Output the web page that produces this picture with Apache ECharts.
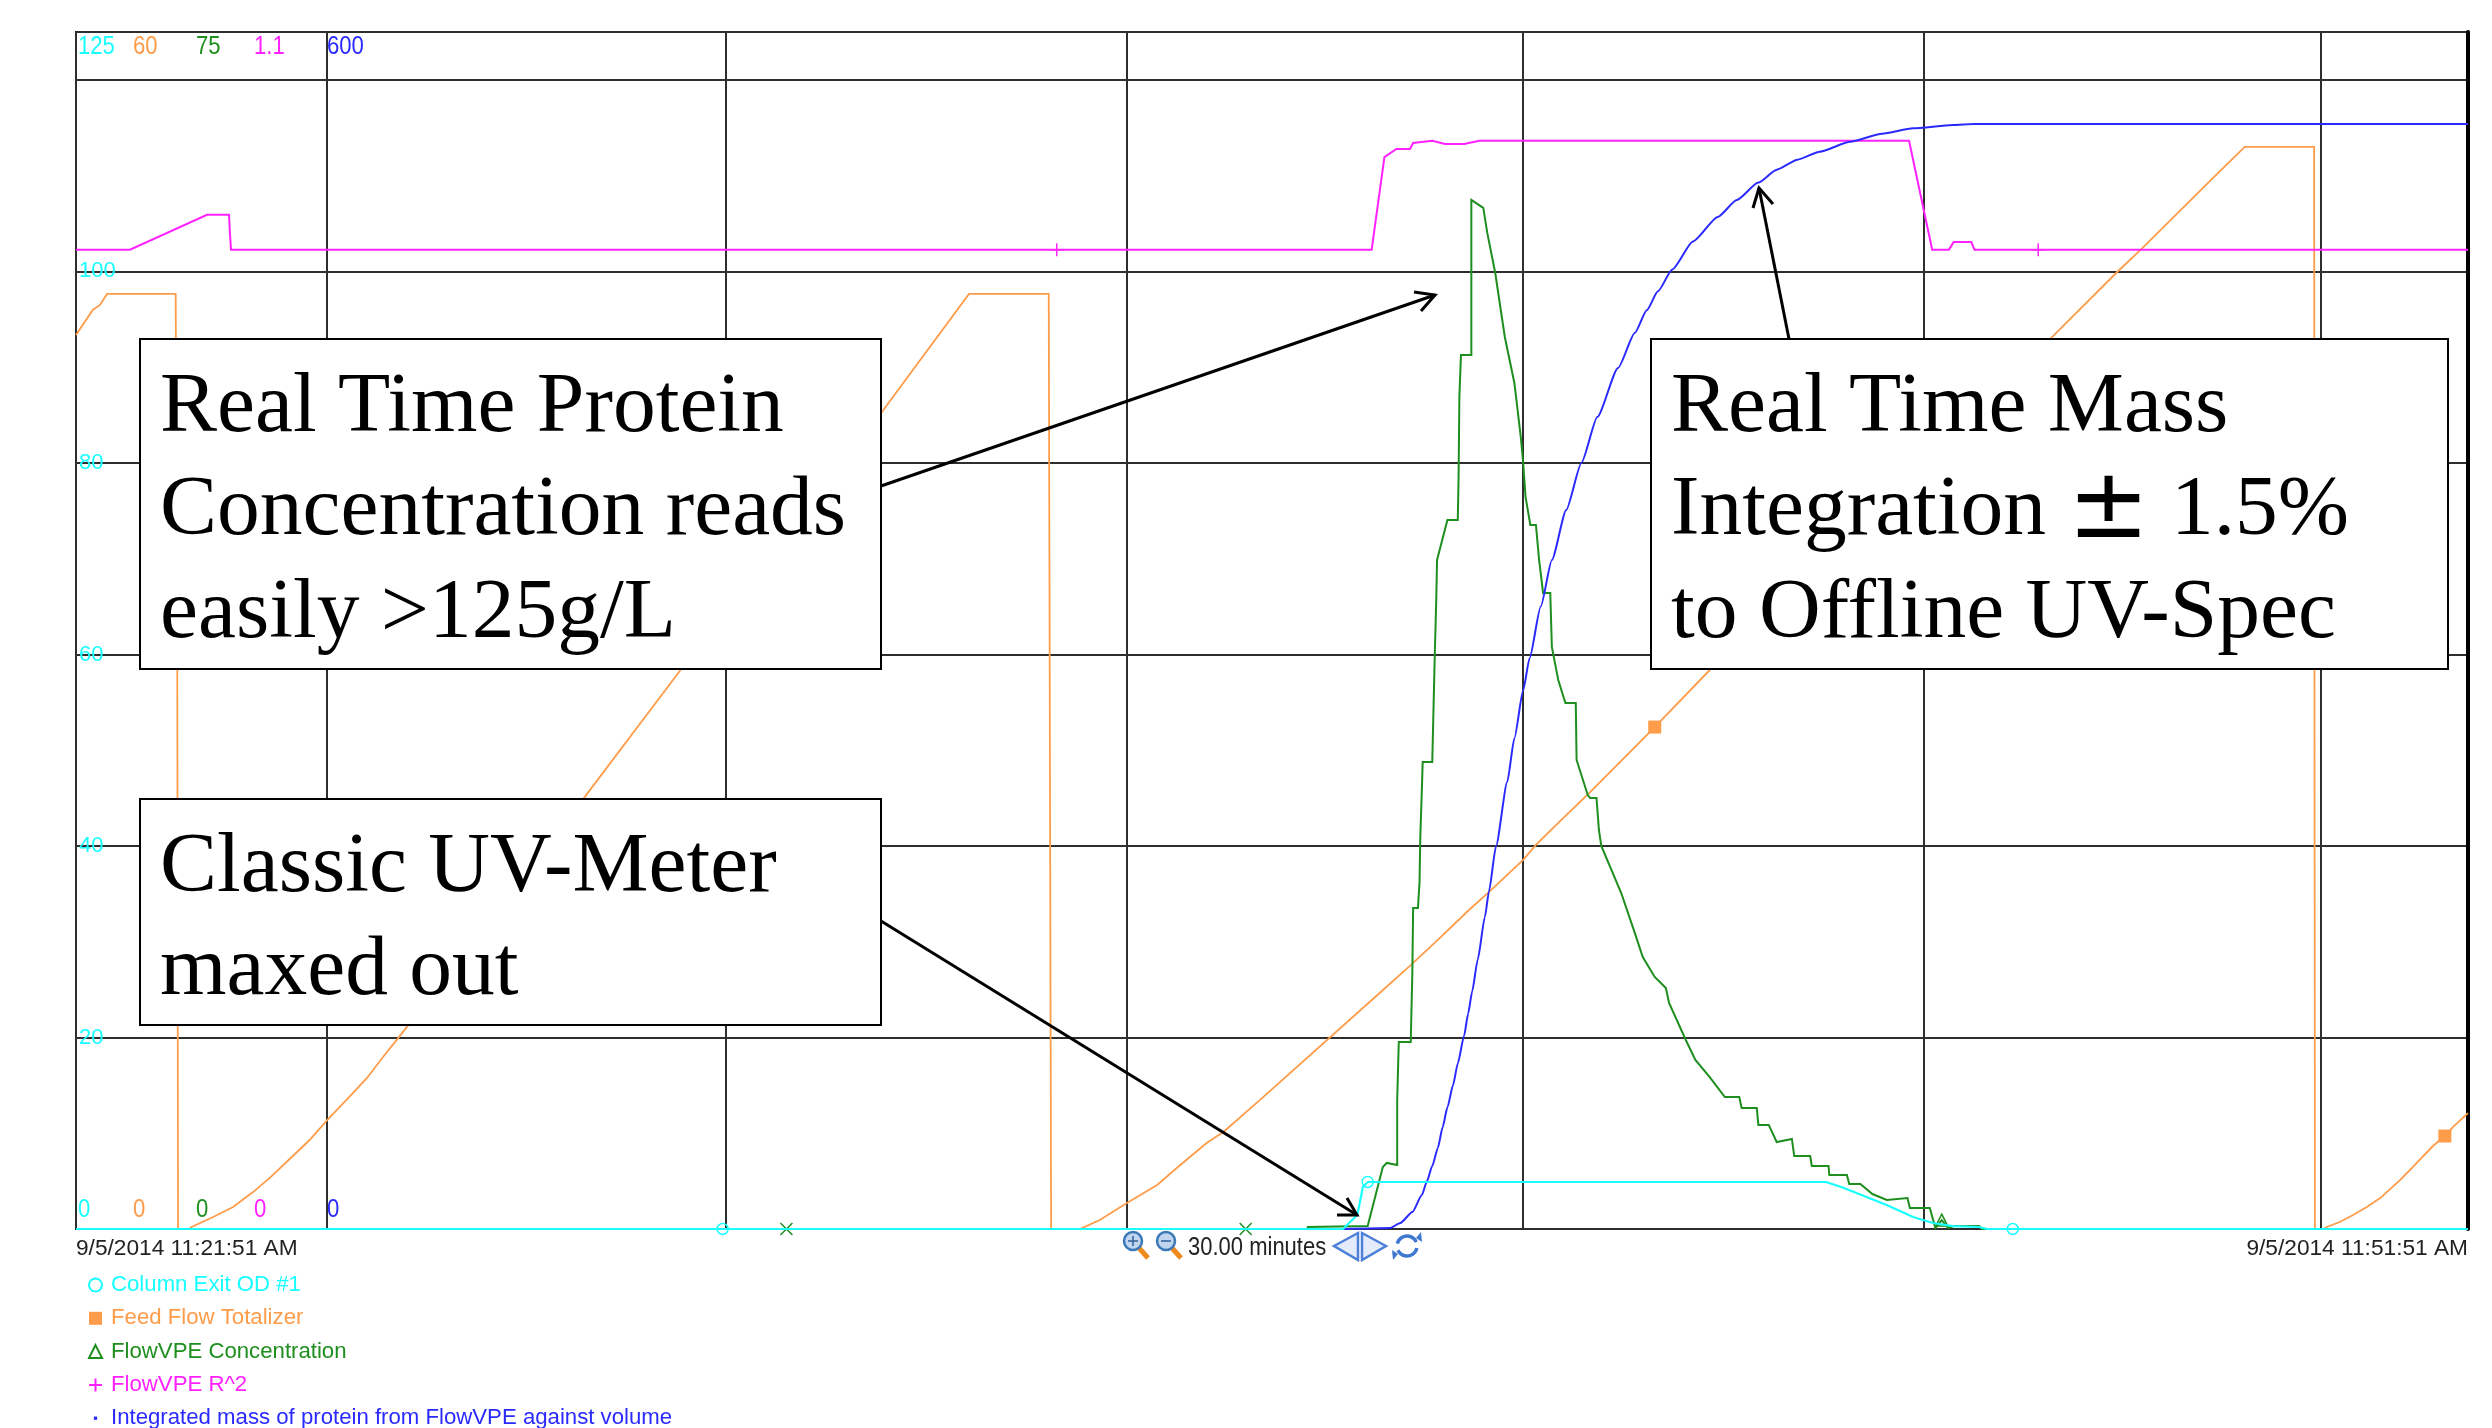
<!DOCTYPE html>
<html><head><meta charset="utf-8">
<style>html,body{margin:0;padding:0;background:#fff}#c{width:2492px;height:1428px}</style>
<script src="https://cdn.jsdelivr.net/npm/echarts@6/dist/echarts.min.js"></script>
</head><body><div id="c"></div>
<script>
// x values: minutes since 9/5/2014 11:21:51 AM
const windowMinutes = 30;
const gridMinutes = [0, 3.15, 8.15, 13.18, 18.15, 23.17, 28.15, 30];
const timeLabels = ['9/5/2014 11:21:51 AM', '9/5/2014 11:51:51 AM'];
const seriesNames = ['Column Exit OD #1', 'Feed Flow Totalizer', 'FlowVPE Concentration', 'FlowVPE R^2', 'Integrated mass of protein from FlowVPE against volume'];
const scaleMax = [125, 60, 75, 1.1, 600];
const scaleMaxLabels = ['125', '60', '75', '1.1', '600'];
const scaleMinLabels = ['0', '0', '0', '0', '0'];
const odTicks = [20, 40, 60, 80, 100];

const odPoints = [[0,0],[15.89,0],[15.98,.73],[16.07,1.46],[16.14,4.39],[16.20,4.91],[21.95,4.91],[22.14,4.39],[22.71,2.5],[23.04,1.25],[23.29,.63],[23.54,.31],[23.87,.21],[23.97,0],[30,0]];
const feedPoints = [[0,44.81],[.21,46.07],[.30,46.32],[.39,46.87],[1.25,46.87],[1.27,29.02],[1.28,0],[1.42,0],[1.45,.10],[1.72,.60],[1.97,1.10],[2.22,1.85],[2.43,2.56],[2.68,3.51],[2.93,4.46],[3.15,5.46],[3.44,6.67],[3.65,7.57],[3.85,8.62],[4.04,9.57],[4.16,10.18],[6.36,21.55],[7.61,28.17],[10.07,40.75],[11.20,46.87],[12.20,46.87],[12.23,0],[12.59,0],[12.84,.45],[13.18,1.30],[13.56,2.21],[13.82,3.11],[14.18,4.31],[14.39,4.86],[14.85,6.47],[16.35,11.83],[16.74,13.23],[17.08,14.49],[17.47,15.99],[17.72,16.89],[18.15,18.50],[18.31,19.25],[18.60,20.40],[18.99,21.90],[19.80,25.16],[20.49,28.02],[24.77,44.66],[25.60,47.97],[25.89,49.07],[26.80,52.68],[27.20,54.24],[28.07,54.24],[28.08,0],[28.19,0],[28.23,.10],[28.39,.35],[28.56,.70],[28.73,1.10],[28.90,1.55],[29.15,2.46],[29.31,3.11],[29.56,4.16],[29.71,4.66],[29.81,5.11],[30,5.81]];
const concPoints = [[0,0],[15.44,0],[15.45,.13],[16.20,.19],[16.39,3.88],[16.44,4.14],[16.57,4.01],[16.57,8.08],[16.59,11.72],[16.74,11.72],[16.76,16.04],[16.77,20.11],[16.83,20.11],[16.85,21.68],[16.86,24.56],[16.88,27.63],[16.89,29.26],[17.01,29.26],[17.02,31.39],[17.04,35.65],[17.06,39.41],[17.07,41.92],[17.20,44.43],[17.33,44.43],[17.34,47.06],[17.35,52.13],[17.37,54.76],[17.50,54.76],[17.50,64.48],[17.65,63.98],[17.70,62.41],[17.80,59.90],[17.92,55.89],[18.04,53.01],[18.12,49.63],[18.15,48.00],[18.18,45.87],[18.24,44.11],[18.31,44.11],[18.35,41.92],[18.40,39.85],[18.49,39.85],[18.51,36.47],[18.59,34.40],[18.68,32.96],[18.81,32.96],[18.82,29.39],[18.96,27.19],[18.99,27.01],[19.07,27.01],[19.10,25.00],[19.13,24.00],[19.38,21.05],[19.55,18.55],[19.65,17.04],[19.80,15.79],[19.94,15.10],[19.98,14.16],[20.19,11.84],[20.31,10.59],[20.49,9.52],[20.68,8.27],[20.86,8.27],[20.89,7.58],[21.08,7.58],[21.10,6.52],[21.23,6.52],[21.33,5.45],[21.52,5.64],[21.55,4.57],[21.75,4.57],[21.77,3.95],[21.98,3.95],[21.99,3.38],[22.21,3.38],[22.24,2.82],[22.38,2.82],[22.53,2.19],[22.71,1.82],[22.97,1.94],[23.00,1.32],[23.25,1.32],[23.32,.06],[23.40,.56],[23.48,.06],[23.55,.19],[23.87,.19],[23.90,0],[30,0]];
const r2Points = [[0,.9],[.677,.9],[1.643,.932],[1.919,.932],[1.93,.916],[1.944,.9],[16.25,.9],[16.41,.985],[16.56,.9925],[16.73,.9925],[16.77,.998],[17.01,1],[17.17,.997],[17.41,.997],[17.60,1],[22.99,1],[23.28,.9],[23.49,.9],[23.55,.907],[23.77,.907],[23.81,.9],[30,.9]];
const massPoints = [[15.89,0],[16.48,.5],[16.61,3],[16.76,8.5],[16.88,17],[16.94,23.6],[17.01,31.6],[17.08,40.6],[17.14,51],[17.20,61],[17.27,72],[17.33,83],[17.41,97],[17.46,108],[17.51,119],[17.58,135],[17.67,156.4],[17.72,169],[17.81,192],[17.95,224],[18.04,246],[18.15,270],[18.23,286],[18.37,312],[18.51,335.3],[18.69,360.4],[18.88,384],[19.08,407],[19.34,431.6],[19.55,449.1],[19.70,460.5],[19.84,470],[20.02,481],[20.28,495],[20.59,507.3],[20.83,515.8],[21.10,524.5],[21.33,531],[21.59,536],[21.87,540],[22.25,545],[22.65,549],[23.04,551.7],[23.54,553.4],[23.80,553.9],[30,553.9]];

const odMarkers = [[8.11,0],[16.20,4.91],[24.29,0]];
const feedMarkers = [[19.80,25.16],[29.71,4.66]];
const concCrossMarkers = [[8.91,0],[14.67,0]];
const concTriangleMarkers = [[23.40,.56]];
const r2Markers = [[12.30,.9],[24.61,.9]];

const boxText1 = ['Real Time Protein', 'Concentration reads', 'easily >125g/L'];
const boxText2 = ['Real Time Mass', 'Integration \u00B1 1.5%', 'to Offline UV-Spec'];
const boxText3 = ['Classic UV-Meter', 'maxed out'];
const zoomText = '30.00 minutes';

const COL = {od:'#19FFFF', feed:'#FF9C4A', conc:'#1E8F1E', r2:'#FF22FF', mass:'#2A2AFF'};
const colors = [COL.od, COL.feed, COL.conc, COL.r2, COL.mass];
const SANS = '"Liberation Sans",sans-serif';
const SERIF = '"Liberation Serif",serif';
const PLOT = {l:76, r:2468, t:32, b:1229};

const PLUS = 'path://M6,0L6,12M0,6L12,6';
const CROSS = 'path://M0,0L12,12M12,0L0,12';

function mark(points, symbol, size, style) {
  return {silent:true, animation:false, label:{show:false}, symbol, symbolSize:size, itemStyle:style,
    data: points.map(p => ({coord:p}))};
}
function line(i, pts, width, extra) {
  return Object.assign({type:'line', name:seriesNames[i], xAxisIndex:0, yAxisIndex:i, data:pts,
    showSymbol:false, symbol:'none', smooth:false, silent:true, animation:false,
    lineStyle:{color:colors[i], width:width, join:'miter'}, itemStyle:{color:colors[i]}}, extra||{});
}

const yAxes = scaleMax.map((m,i) => {
  const a = {type:'value', min:0, max:m, show:false};
  if (i===0) {
    a.show = true;
    a.axisLine = {show:false};
    a.axisTick = {show:false, customValues:[0,20,40,60,80,100,120,125]};
    a.splitLine = {show:true, lineStyle:{color:'#2e2e2e', width:2}};
    a.axisLabel = {show:true, inside:true, margin:3, color:COL.od, fontFamily:SANS, fontSize:22, customValues:odTicks};
  }
  return a;
});
yAxes.push({type:'value', min:0, max:1, position:'right', show:true, axisLabel:{show:false}, axisTick:{show:false}, splitLine:{show:false},
  axisLine:{show:true, lineStyle:{color:'#000', width:4}}});

const G = [];
const Z = 100;
function tx(text, x, y, fill, font, extra) {
  G.push(Object.assign({type:'text', z:Z, silent:true, x, y, style:{text, fill, font, textAlign:'left', textVerticalAlign:'middle'}}, extra||{}));
}
const NARROW_SCALE = 0.885;
function box(x, y, w, h, lines) {
  G.push({type:'rect', z:Z, silent:true, shape:{x,y,width:w,height:h}, style:{fill:'#fff', stroke:'#000', lineWidth:2}});
  lines.forEach((t,i) => {
    const el = {type:'text', z:Z+1, silent:true, x:x+20, y:y+70+i*103,
      style:{text:t.replace('\u00B1','{b|\u00B1}'), fill:'#000', font:'85.5px '+SERIF, textAlign:'left', textVerticalAlign:'middle',
        rich:{b:{font:'98px "DejaVu Sans",sans-serif', fill:'#000'}}}};
    G.push(el);
  });
}
function arrow(x1,y1,x2,y2,b1x,b1y,b2x,b2y) {
  G.push({type:'line', z:Z+2, silent:true, shape:{x1,y1,x2,y2}, style:{stroke:'#000', lineWidth:3}});
  G.push({type:'polyline', z:Z+2, silent:true, shape:{points:[[b1x,b1y],[x2,y2],[b2x,b2y]]}, style:{stroke:'#000', lineWidth:3, fill:'none'}});
}
box(140,339,741,330,boxText1);
box(1651,339,797,330,boxText2);
box(140,799,741,226,boxText3);
arrow(881,486,1435,295,1414,292,1421,311);
arrow(1789,339,1759,188,1753,208,1773,204);
arrow(881,921,1357,1215,1337,1215,1347,1198);

const scaleX = [78,133,196,254,327];
const narrow = {z:5, scaleX:NARROW_SCALE};
scaleMaxLabels.forEach((t,i) => tx(t, scaleX[i], 47, colors[i], '25px '+SANS, narrow));
scaleMinLabels.forEach((t,i) => tx(t, scaleX[i], 1210, colors[i], '25px '+SANS, narrow));

// zoom controls
function magnifier(cx, minus) {
  G.push({type:'line', z:Z, silent:true, shape:{x1:cx+6,y1:1248,x2:cx+15,y2:1258}, style:{stroke:'#F08A1D', lineWidth:5}});
  G.push({type:'circle', z:Z, silent:true, shape:{cx,cy:1241,r:9}, style:{fill:'#BFD6EE', stroke:'#3B78B8', lineWidth:2.5}});
  G.push({type:'line', z:Z+1, silent:true, shape:{x1:cx-5,y1:1241,x2:cx+5,y2:1241}, style:{stroke:'#2E5F96', lineWidth:1.5}});
  if (!minus) G.push({type:'line', z:Z+1, silent:true, shape:{x1:cx,y1:1236,x2:cx,y2:1246}, style:{stroke:'#2E5F96', lineWidth:1.5}});
}
magnifier(1133,false); magnifier(1166,true);
tx(zoomText, 1188, 1248, '#222', '25px '+SANS, {scaleX:0.88});
[[[1334,1246],[1358,1233],[1358,1260]], [[1386,1246],[1362,1233],[1362,1260]]].forEach(p =>
  G.push({type:'polygon', z:Z, silent:true, shape:{points:p}, style:{fill:'#E4ECFB', stroke:'#4C80D8', lineWidth:2.5}}));
[[-2.9,-0.4],[0.2,2.7]].forEach((a,i) =>
  G.push({type:'arc', z:Z, silent:true, shape:{cx:1407,cy:1246,r:10,startAngle:a[0],endAngle:a[1]}, style:{stroke:'#3F78D0', fill:'none', lineWidth:3.5}}));
[[[1416,1238],[1421,1232],[1422,1242]], [[1398,1254],[1393,1260],[1392,1250]]].forEach(p =>
  G.push({type:'polygon', z:Z, silent:true, shape:{points:p}, style:{fill:'#3F78D0'}}));

const DOT = 'path://M0,0M12,12M4.5,4.5L7.5,4.5L7.5,7.5L4.5,7.5Z';
const option = {
  animation:false,
  backgroundColor:'#fff',
  grid:{left:PLOT.l, right:2492-PLOT.r, top:PLOT.t, height:PLOT.b-PLOT.t, show:true, borderColor:'#111', borderWidth:2, backgroundColor:'#fff'},
  xAxis:{type:'value', min:0, max:windowMinutes,
    axisLine:{show:false},
    axisTick:{show:false, customValues:gridMinutes},
    splitLine:{show:true, lineStyle:{color:'#2e2e2e', width:2}},
    axisLabel:{show:true, customValues:[0,windowMinutes], margin:8, color:'#222', fontFamily:SANS, fontSize:22.7,
      alignMinLabel:'left', alignMaxLabel:'right', hideOverlap:false,
      formatter:v => v===0 ? timeLabels[0] : (v===windowMinutes ? timeLabels[1] : '')}},
  yAxis:yAxes,
  legend:{show:true, orient:'vertical', left:83, top:1269, height:220, itemWidth:13, itemHeight:13, itemGap:11.3, itemStyle:{borderWidth:0}, selectedMode:false,
    textStyle:{fontFamily:SANS, fontSize:22.2, padding:[1,0,1,4]},
    data:[
      {name:seriesNames[0], icon:'circle', itemStyle:{color:'rgba(255,255,255,0)', borderColor:COL.od, borderWidth:2}, textStyle:{color:COL.od}},
      {name:seriesNames[1], icon:'rect', itemStyle:{color:COL.feed}, textStyle:{color:COL.feed}},
      {name:seriesNames[2], icon:'triangle', itemStyle:{color:'rgba(255,255,255,0)', borderColor:COL.conc, borderWidth:2}, textStyle:{color:COL.conc}},
      {name:seriesNames[3], icon:PLUS, itemStyle:{color:'rgba(255,255,255,0)', borderColor:COL.r2, borderWidth:2}, textStyle:{color:COL.r2}},
      {name:seriesNames[4], icon:DOT, itemStyle:{color:COL.mass}, textStyle:{color:COL.mass}}
    ]},
  series:[
    line(1, feedPoints, 1.8, {z:2, markPoint:mark(feedMarkers,'rect',13,{color:COL.feed})}),
    line(2, concPoints, 2, {z:3, markPoint:mark(concCrossMarkers,CROSS,12,{color:'none',borderColor:COL.conc,borderWidth:1.5})}),
    line(3, r2Points, 2, {z:4, markPoint:mark(r2Markers,PLUS,13,{color:'none',borderColor:COL.r2,borderWidth:1.5})}),
    line(4, massPoints, 2, {z:5, smooth:0.2, smoothMonotone:'x'}),
    line(0, odPoints, 2.2, {z:6, markPoint:mark(odMarkers,'circle',11,{color:'none',borderColor:COL.od,borderWidth:1.5})}),
    {type:'line', name:'FlowVPE triangle marker', yAxisIndex:2, data:[], z:3, silent:true, markPoint:mark(concTriangleMarkers,'triangle',12,{color:'none',borderColor:COL.conc,borderWidth:1.5})}
  ],
  graphic:{elements:G}
};
const chart = echarts.init(document.getElementById('c'), null, {renderer:'canvas'});
chart.setOption(option);
</script>
</body></html>
